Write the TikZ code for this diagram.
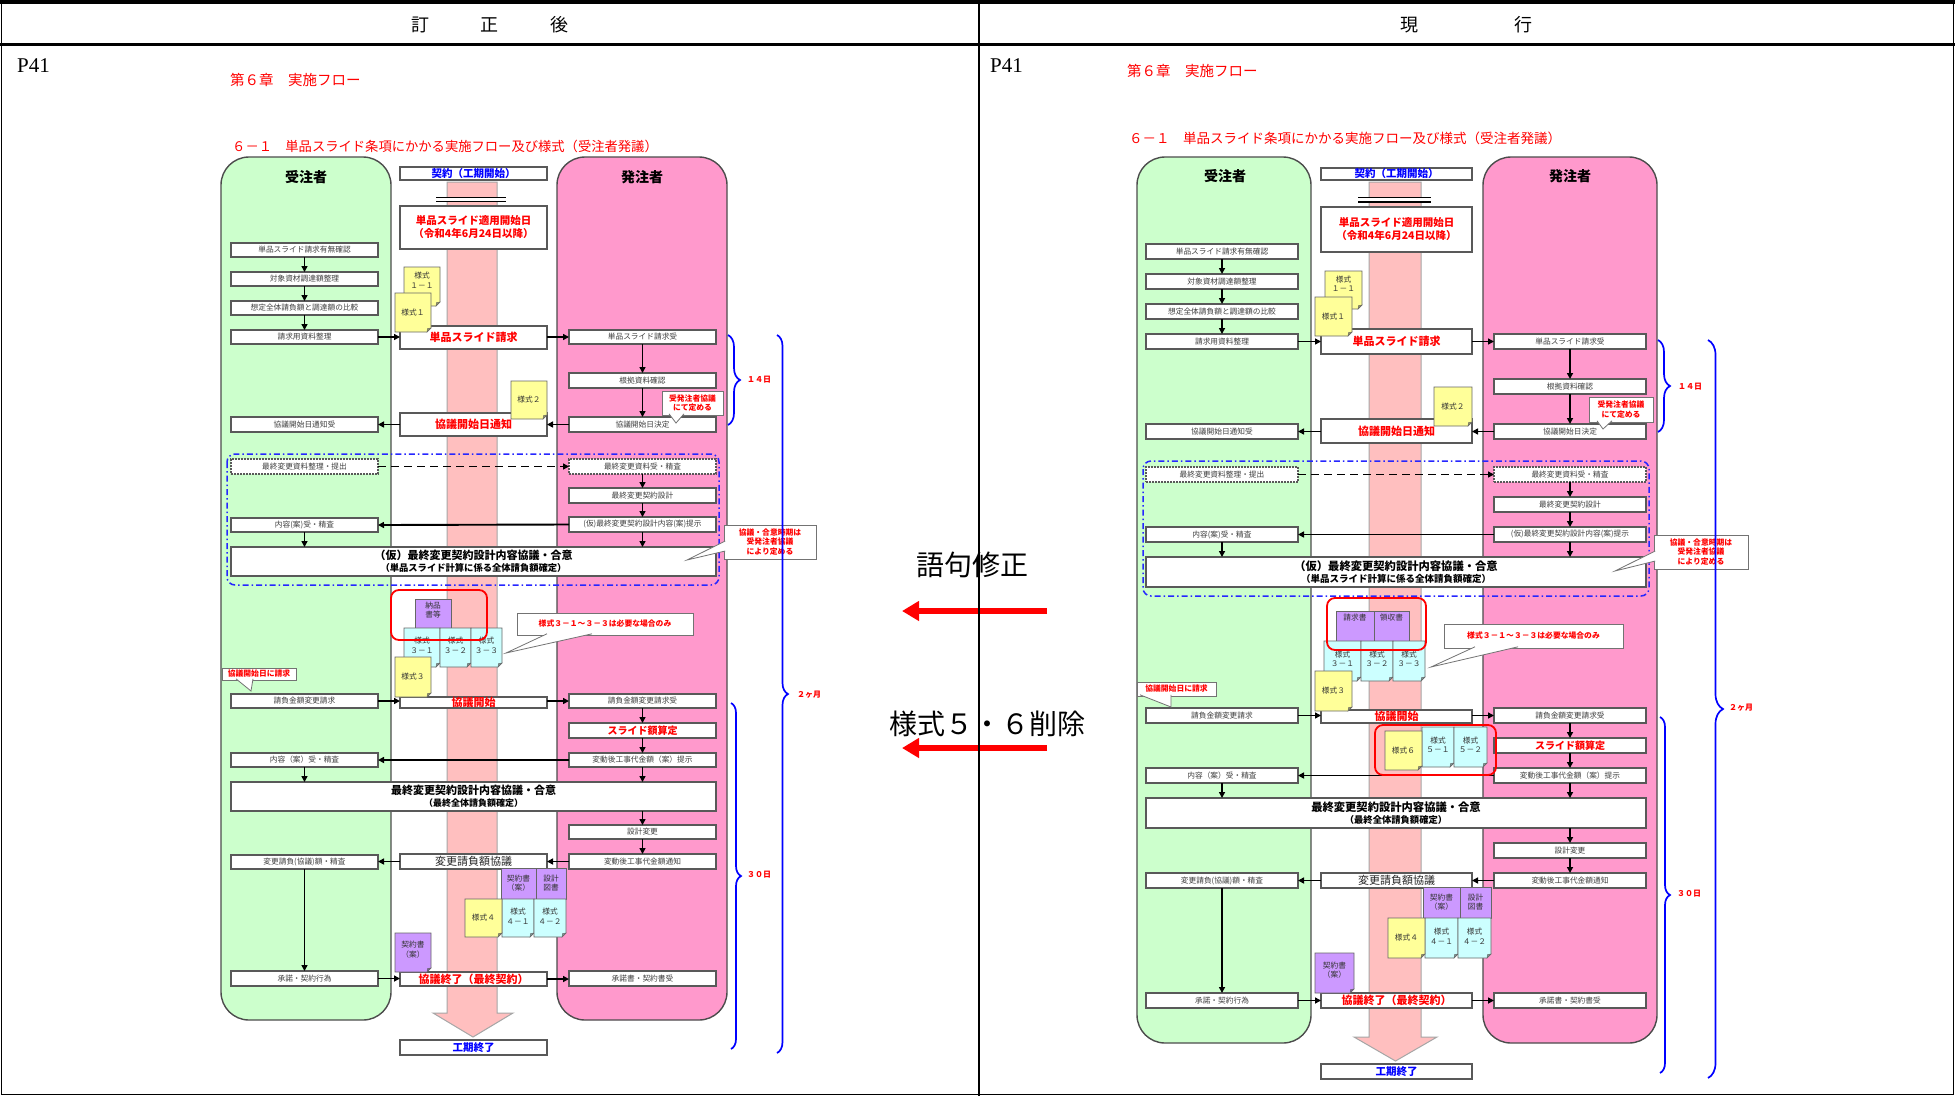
\documentclass[tikz,border=0pt]{standalone}
\usepackage{fontspec}
\setmainfont{Noto Sans CJK JP}
\newfontfamily\lserif{Liberation Serif}
\usetikzlibrary{arrows.meta,decorations.pathreplacing}
\definecolor{laneG}{HTML}{CCFFCC}
\definecolor{laneP}{HTML}{FF99CC}
\definecolor{bandc}{HTML}{FFBFBF}
\definecolor{noteY}{HTML}{FFFF99}
\definecolor{noteC}{HTML}{CCFFFF}
\definecolor{noteP}{HTML}{CC99FF}
\definecolor{dblue}{HTML}{0000FF}
\tikzset{
  lane/.style={draw=black!70, line width=1.4pt, rounded corners=28pt},
  band/.style={fill=bandc, draw=black!35, line width=1pt},
  lbox/.style={draw=black!65, fill=white, line width=1.2pt, inner sep=0pt, outer sep=0pt, font=\fontsize{7.7}{9}\selectfont, text=black!75},
  dbox/.style={lbox, dash pattern=on 1.8pt off 1.2pt},
  cred/.style={lbox, text=red, font=\fontsize{11}{13}\selectfont\bfseries},
  credm/.style={lbox, text=red, font=\fontsize{10}{12}\selectfont\bfseries},
  cblue/.style={lbox, text=dblue, font=\fontsize{10.5}{12}\selectfont\bfseries},
  cblk/.style={lbox, text=black!85, font=\fontsize{11}{13}\selectfont},
  cred2/.style={lbox, text=red, align=center, font=\fontsize{10.5}{13}\selectfont\bfseries},
  bigb/.style={lbox, align=center, text=black, font=\bfseries},
  arr/.style={line width=1.9pt, -{Triangle[length=6pt,width=6pt]}},
  darr/.style={arr, dash pattern=on 8pt off 5pt},
  nt/.style={inner sep=0pt, align=center, font=\fontsize{7.7}{9.5}\selectfont, text=black!80},
  pfill/.style={draw=black!60, fill=noteP, line width=0.6pt},
  callout/.style={draw=black!55, fill=white, line width=0.8pt, inner sep=0pt, outer sep=0pt, align=center, text=red, font=\fontsize{7.8}{9.5}\selectfont\bfseries},
  lanelbl/.style={font=\fontsize{14}{16}\selectfont\bfseries},
  brc/.style={draw=dblue, line width=1.7pt, decorate, decoration={brace, amplitude=#1}},
  brlbl/.style={text=red, font=\fontsize{8}{9}\selectfont\bfseries},
  hlt/.style={draw=red, line width=1.8pt, rounded corners=8pt},
  bdash/.style={draw=dblue!85, line width=1.5pt, dash pattern=on 6pt off 3pt on 1.5pt off 3pt, rounded corners=8pt},
  redarr/.style={draw=red, line width=6pt, -{Triangle[length=17pt,width=19pt]}},
  hdr/.style={font=\fontsize{18}{20}\selectfont},
  ttl/.style={text=red, anchor=west, inner sep=0pt},
  midtxt/.style={font=\fontsize{28}{30}\selectfont},
}
\newcommand{\bx}[6][lbox]{\node[#1,minimum width={(#4-#2)*1pt},minimum height={(#5-#3)*1pt}] (#6) at ({(#2+#4)/2},{(#3+#5)/2})}
\newcommand{\docnote}[8][0]{%
  \filldraw[draw=black!60, fill=#6, line width=0.6pt] (#2,#3) -- (#4,#3) -- (#4,#5-4) -- (#4-4,#5) -- (#2,#5) -- cycle;
  \filldraw[draw=black!60, fill=#6!60!black, line width=0.4pt] (#4,#5-4) -- (#4-3.5,#5-3.5) -- (#4-4,#5) -- cycle;
  \node[nt] (#7) at ({(#2+#4)/2},{(#3+#5)/2+(#1)}) {#8};}
\newcommand{\pnote}[7]{%
  \filldraw[pfill] (#1,#2) rectangle (#3,#4);
  \node[nt] (#5) at ({(#1+#3)/2},#7) {#6};}
\newcommand{\calltail}[6]{%
  \fill[white] (#1,#2) -- (#3,#4) -- (#5,#6) -- cycle;
  \draw[draw=black!55, line width=0.8pt] (#1,#2) -- (#3,#4) -- (#5,#6);}
\begin{document}
\begin{tikzpicture}[x=1pt,y=-1pt]
\useasboundingbox (0,0) rectangle (1955,1096);
\fill[white] (0,0) rectangle (1955,1096);
% ===== frame and headers
\fill[black] (0,0) rectangle (1955,4);
\draw[line width=1.5pt] (1.5,0) -- (1.5,1094.5) -- (1953.5,1094.5) -- (1953.5,0);
\draw[line width=3pt] (0,44) -- (1955,44);
\node[hdr] (hL) at (490,25) {訂\hspace{52pt}正\hspace{52pt}後};
\node[hdr] (hR) at (1466,25) {現\hspace{96pt}行};
\node[anchor=west, inner sep=0pt, font=\lserif\fontsize{21}{23}\selectfont] (pL) at (17,66) {P41};
\node[anchor=west, inner sep=0pt, font=\lserif\fontsize{21}{23}\selectfont] (pR) at (990,66) {P41};
\node[ttl, font=\fontsize{14.5}{16}\selectfont] (cL) at (230,80) {第６章　実施フロー};
\node[ttl, font=\fontsize{14.5}{16}\selectfont] (cR) at (1127,71) {第６章　実施フロー};
\node[ttl, font=\fontsize{13.3}{15}\selectfont] (sL) at (232,146) {６－１　単品スライド条項にかかる実施フロー及び様式（受注者発議）};
\node[ttl, font=\fontsize{13.5}{15}\selectfont] (sR) at (1129,138) {６－１　単品スライド条項にかかる実施フロー及び様式（受注者発議）};

% ================= LEFT CHART
\draw[lane, fill=laneG] (221,157) rectangle (391,1020);
\draw[lane, fill=laneP] (557,157) rectangle (727,1020);
\node[lanelbl] (LgL) at (306,177) {受注者};
\node[lanelbl] (LpL) at (642,177) {発注者};
\filldraw[band] (447,182) -- (497,182) -- (497,1013) -- (513,1013) -- (473,1037) -- (433,1013) -- (447,1013) -- cycle;
\fill[white] (436,196.5) rectangle (506,202);
\draw[line width=1.4pt] (436,197.2) -- (506,197.2) (436,201.3) -- (506,201.3);
\draw[bdash] (227,454) rectangle (719,585);
% center
\bx[cblue]{400}{167}{547}{180}{Lc1}{契約（工期開始）};
\bx[cred2]{400}{206}{547}{249}{Lc2}{単品スライド適用開始日\\（令和4年6月24日以降）};
\bx[cred]{400}{326}{547}{349}{Lc3}{単品スライド請求};
\bx[cred]{400}{413}{547}{436}{Lc4}{協議開始日通知};
\bx[cred]{400}{697}{547}{708}{Lc5}{協議開始};
\bx[cblk]{400}{854}{547}{869}{Lc6}{変更請負額協議};
\bx[cred]{400}{972}{547}{986}{Lc7}{協議終了（最終契約）};
\bx[cblue]{400}{1040}{547}{1055}{Lc8}{工期終了};
% left lane
\bx{231}{243}{378}{257}{La1}{単品スライド請求有無確認};
\bx{231}{272}{378}{286}{La2}{対象資材調達額整理};
\bx{231}{301}{378}{315}{La3}{想定全体請負額と調達額の比較};
\bx{231}{330}{378}{344}{La4}{請求用資料整理};
\bx{231}{417}{378}{432}{La5}{協議開始日通知受};
\bx[dbox]{231}{459}{378}{474}{La6}{最終変更資料整理・提出};
\bx{231}{518}{378}{532}{La7}{内容(案)受・精査};
\bx{231}{694}{378}{708}{La8}{請負金額変更請求};
\bx{231}{753}{378}{767}{La9}{内容（案）受・精査};
\bx{231}{855}{378}{869}{La10}{変更請負(協議)額・精査};
\bx{231}{971}{378}{986}{La11}{承諾・契約行為};
% right lane
\bx{569}{330}{716}{344}{Lr1}{単品スライド請求受};
\bx{569}{373}{716}{388}{Lr2}{根拠資料確認};
\bx{569}{417}{716}{432}{Lr3}{協議開始日決定};
\bx[dbox]{569}{459}{716}{474}{Lr4}{最終変更資料受・精査};
\bx{569}{488}{716}{503}{Lr5}{最終変更契約設計};
\bx{569}{517}{716}{532}{Lr6}{(仮)最終変更契約設計内容(案)提示};
\bx{569}{694}{716}{708}{Lr7}{請負金額変更請求受};
\bx[credm]{569}{723}{716}{738}{Lr8}{スライド額算定};
\bx{569}{753}{716}{767}{Lr9}{変動後工事代金額（案）提示};
\bx{569}{825}{716}{839}{Lr10}{設計変更};
\bx{569}{854}{716}{869}{Lr11}{変動後工事代金額通知};
\bx{569}{971}{716}{986}{Lr12}{承諾書・契約書受};
% big boxes
\bx[bigb]{231}{547}{716}{576}{LB1}{{\fontsize{11}{12}\selectfont （仮）最終変更契約設計内容協議・合意}\\{\fontsize{9.3}{10}\selectfont （単品スライド計算に係る全体請負額確定）}};
\bx[bigb]{231}{782}{716}{811}{LB2}{{\fontsize{11}{12}\selectfont 最終変更契約設計内容協議・合意}\\{\fontsize{9}{10}\selectfont （最終全体請負額確定）}};
% arrows
\draw[arr] (La1) -- (La2);
\draw[arr] (La2) -- (La3);
\draw[arr] (La3) -- (La4);
\draw[arr] (La4.east) -- (La4.east -| Lc3.west);
\draw[arr] (Lc3.east |- La4.east) -- (Lr1.west);
\draw[arr] (Lr1) -- (Lr2);
\draw[arr] (Lr2) -- (Lr3);
\draw[arr] (Lr3.west) -- (Lr3.west -| Lc4.east);
\draw[arr] (Lc4.west |- La5.east) -- (La5.east);
\draw[darr] (La6.east) -- (Lr4.west);
\draw[arr] (Lr4) -- (Lr5);
\draw[arr] (Lr5) -- (Lr6);
\draw[arr] (Lr6.west) -- (La7.east);
\draw[arr] (Lr6.south) -- (Lr6.south |- LB1.north);
\draw[arr] (La7.south) -- (La7.south |- LB1.north);
\draw[arr] (La8.east) -- (La8.east -| Lc5.west);
\draw[arr] (Lc5.east |- La8.east) -- (Lr7.west);
\draw[arr] (Lr7) -- (Lr8);
\draw[arr] (Lr8) -- (Lr9);
\draw[arr] (Lr9.west) -- (La9.east);
\draw[arr] (Lr9.south) -- (Lr9.south |- LB2.north);
\draw[arr] (La9.south) -- (La9.south |- LB2.north);
\draw[arr] (Lr10.north |- LB2.south) -- (Lr10.north);
\draw[arr] (Lr10) -- (Lr11);
\draw[arr] (Lr11.west) -- (Lr11.west -| Lc6.east);
\draw[arr] (Lc6.west) -- (Lc6.west -| La10.east);
\draw[arr] (La10) -- (La11);
\draw[arr] (La11.east) -- (La11.east -| Lc7.west);
\draw[arr] (Lc7.east) -- (Lc7.east -| Lr12.west);
% notes
\docnote[-6]{404}{267}{440}{306}{noteY}{Ln1}{様式\\１－１};
\docnote{395}{293}{431}{332}{noteY}{Ln2}{様式１};
\docnote{511}{381}{547}{419}{noteY}{Ln3}{様式２};
\pnote{415}{599}{451}{628}{Ln4}{納品\\書等}{610};
\docnote[-2]{404}{628}{440}{667}{noteC}{Ln5}{様式\\３－１};
\docnote[-2]{440}{628}{471}{667}{noteC}{Ln6}{様式\\３－２};
\docnote[-2]{471}{628}{502}{667}{noteC}{Ln7}{様式\\３－３};
\docnote{395}{657}{431}{697}{noteY}{Ln8}{様式３};
\pnote{501}{868}{536}{899}{Ln9}{契約書\\（案）}{883};
\pnote{536}{868}{566}{899}{Ln10}{設計\\図書}{883};
\docnote[-2]{502}{899}{534}{937}{noteC}{Ln12}{様式\\４－１};
\docnote[-2]{534}{899}{566}{937}{noteC}{Ln13}{様式\\４－２};
\docnote{465}{899}{502}{937}{noteY}{Ln11}{様式４};
\docnote[-3]{395}{933}{431}{972}{noteP}{Ln14}{契約書\\（案）};
% highlight
\draw[hlt] (391,590) rectangle (487,640);
% callouts
\bx[callout]{662}{391}{723}{415}{LK1}{受発注者協議\\にて定める};
\calltail{669}{413.8}{676}{423}{684}{413.8}
\bx[callout]{724}{525}{816}{559}{LK2}{協議・合意時期は\\受発注者協議\\により定める};
\calltail{725.2}{541}{687}{560}{725.2}{551}
\bx[callout]{517}{613}{693}{635}{LK3}{様式３－１～３－３は必要な場合のみ};
\calltail{547}{633.8}{506}{653}{592}{633.8}
\bx[callout]{222}{668}{296}{680}{LK4}{協議開始日に請求};
\calltail{236}{678.8}{251}{691}{253}{678.8}
% braces
\draw[brc=12pt] (728,335) -- (728,425);
\node[brlbl] (Lt1) at (759,380) {１４日};
\draw[brc=11pt] (777,335) -- (777,1053);
\node[brlbl] (Lt2) at (809,695) {２ヶ月};
\draw[brc=10pt] (731,703) -- (731,1049);
\node[brlbl] (Lt3) at (759,875) {３０日};

% ================= RIGHT CHART
\draw[lane, fill=laneG] (1137,157) rectangle (1311,1043);
\draw[lane, fill=laneP] (1483,157) rectangle (1657,1043);
\node[lanelbl] (RgL) at (1225,176) {受注者};
\node[lanelbl] (RpL) at (1570,176) {発注者};
\filldraw[band] (1369,182) -- (1421,182) -- (1421,1037) -- (1437,1037) -- (1395.5,1061) -- (1354,1037) -- (1369,1037) -- cycle;
\fill[white] (1358,197) rectangle (1431,203);
\draw[line width=1.4pt] (1358,197.6) -- (1431,197.6) (1358,201.8) -- (1431,201.8);
\draw[bdash] (1143,461) rectangle (1649,596);
% center
\bx[cblue]{1321}{168}{1472}{180}{Rc1}{契約（工期開始）};
\bx[cred2]{1321}{207}{1472}{252}{Rc2}{単品スライド適用開始日\\（令和4年6月24日以降）};
\bx[cred]{1321}{329}{1472}{354}{Rc3}{単品スライド請求};
\bx[cred]{1321}{419}{1472}{443}{Rc4}{協議開始日通知};
\bx[cred]{1321}{710}{1472}{723}{Rc5}{協議開始};
\bx[cblk]{1321}{873}{1472}{888}{Rc6}{変更請負額協議};
\bx[cred]{1321}{993}{1472}{1008}{Rc7}{協議終了（最終契約）};
\bx[cblue]{1321}{1064}{1472}{1079}{Rc8}{工期終了};
% left lane
\bx{1146}{244}{1298}{259}{Ra1}{単品スライド請求有無確認};
\bx{1146}{274}{1298}{289}{Ra2}{対象資材調達額整理};
\bx{1146}{304}{1298}{319}{Ra3}{想定全体請負額と調達額の比較};
\bx{1146}{334}{1298}{349}{Ra4}{請求用資料整理};
\bx{1146}{424}{1298}{439}{Ra5}{協議開始日通知受};
\bx[dbox]{1146}{467}{1298}{482}{Ra6}{最終変更資料整理・提出};
\bx{1146}{527}{1298}{542}{Ra7}{内容(案)受・精査};
\bx{1146}{708}{1298}{723}{Ra8}{請負金額変更請求};
\bx{1146}{768}{1298}{783}{Ra9}{内容（案）受・精査};
\bx{1146}{873}{1298}{888}{Ra10}{変更請負(協議)額・精査};
\bx{1146}{993}{1298}{1008}{Ra11}{承諾・契約行為};
% right lane
\bx{1494}{334}{1646}{349}{Rr1}{単品スライド請求受};
\bx{1494}{379}{1646}{394}{Rr2}{根拠資料確認};
\bx{1494}{424}{1646}{439}{Rr3}{協議開始日決定};
\bx[dbox]{1494}{467}{1646}{482}{Rr4}{最終変更資料受・精査};
\bx{1494}{497}{1646}{512}{Rr5}{最終変更契約設計};
\bx{1494}{527}{1646}{542}{Rr6}{(仮)最終変更契約設計内容(案)提示};
\bx{1494}{708}{1646}{723}{Rr7}{請負金額変更請求受};
\bx[credm]{1494}{738}{1646}{753}{Rr8}{スライド額算定};
\bx{1494}{768}{1646}{783}{Rr9}{変動後工事代金額（案）提示};
\bx{1494}{843}{1646}{858}{Rr10}{設計変更};
\bx{1494}{873}{1646}{888}{Rr11}{変動後工事代金額通知};
\bx{1494}{993}{1646}{1008}{Rr12}{承諾書・契約書受};
% big boxes
\bx[bigb]{1146}{557}{1646}{587}{RB1}{{\fontsize{11.3}{12}\selectfont （仮）最終変更契約設計内容協議・合意}\\{\fontsize{9.5}{10}\selectfont （単品スライド計算に係る全体請負額確定）}};
\bx[bigb]{1146}{798}{1646}{828}{RB2}{{\fontsize{11.3}{12}\selectfont 最終変更契約設計内容協議・合意}\\{\fontsize{9.3}{10}\selectfont （最終全体請負額確定）}};
% arrows
\draw[arr] (Ra1) -- (Ra2);
\draw[arr] (Ra2) -- (Ra3);
\draw[arr] (Ra3) -- (Ra4);
\draw[arr] (Ra4.east) -- (Ra4.east -| Rc3.west);
\draw[arr] (Rc3.east |- Ra4.east) -- (Rr1.west);
\draw[arr] (Rr1) -- (Rr2);
\draw[arr] (Rr2) -- (Rr3);
\draw[arr] (Rr3.west) -- (Rr3.west -| Rc4.east);
\draw[arr] (Rc4.west |- Ra5.east) -- (Ra5.east);
\draw[darr] (Ra6.east) -- (Rr4.west);
\draw[arr] (Rr4) -- (Rr5);
\draw[arr] (Rr5) -- (Rr6);
\draw[arr] (Rr6.west) -- (Ra7.east);
\draw[arr] (Rr6.south) -- (Rr6.south |- RB1.north);
\draw[arr] (Ra7.south) -- (Ra7.south |- RB1.north);
\draw[arr] (Ra8.east) -- (Ra8.east -| Rc5.west);
\draw[arr] (Rc5.east |- Ra8.east) -- (Rr7.west);
\draw[arr] (Rr7) -- (Rr8);
\draw[arr] (Rr8) -- (Rr9);
\draw[arr] (Rr9.west) -- (Ra9.east);
\draw[arr] (Rr9.south) -- (Rr9.south |- RB2.north);
\draw[arr] (Ra9.south) -- (Ra9.south |- RB2.north);
\draw[arr] (Rr10.north |- RB2.south) -- (Rr10.north);
\draw[arr] (Rr10) -- (Rr11);
\draw[arr] (Rr11.west) -- (Rr11.west -| Rc6.east);
\draw[arr] (Rc6.west) -- (Rc6.west -| Ra10.east);
\draw[arr] (Ra10) -- (Ra11);
\draw[arr] (Ra11.east) -- (Ra11.east -| Rc7.west);
\draw[arr] (Rc7.east) -- (Rc7.east -| Rr12.west);
% notes
\docnote[-6]{1325}{271}{1362}{309}{noteY}{Rn1}{様式\\１－１};
\docnote{1315}{297}{1352}{336}{noteY}{Rn2}{様式１};
\docnote{1434}{387}{1472}{426}{noteY}{Rn3}{様式２};
\pnote{1336}{611}{1374}{641}{Rn4}{請求書}{618};
\pnote{1374}{611}{1409}{641}{Rn5}{領収書}{618};
\docnote[-2]{1324}{641}{1361}{681}{noteC}{Rn6}{様式\\３－１};
\docnote[-2]{1361}{641}{1393}{681}{noteC}{Rn7}{様式\\３－２};
\docnote[-2]{1393}{641}{1425}{681}{noteC}{Rn8}{様式\\３－３};
\docnote{1315}{671}{1352}{711}{noteY}{Rn9}{様式３};
\docnote[-2]{1422}{727}{1454}{767}{noteC}{Rn10}{様式\\５－１};
\docnote[-2]{1454}{727}{1487}{767}{noteC}{Rn11}{様式\\５－２};
\docnote{1385}{731}{1422}{770}{noteY}{Rn12}{様式６};
\pnote{1423}{887}{1460}{918}{Rn13}{契約書\\（案）}{902};
\pnote{1460}{887}{1491}{918}{Rn14}{設計\\図書}{902};
\docnote[-2]{1425}{918}{1458}{958}{noteC}{Rn16}{様式\\４－１};
\docnote[-2]{1458}{918}{1491}{958}{noteC}{Rn17}{様式\\４－２};
\docnote{1388}{918}{1425}{958}{noteY}{Rn15}{様式４};
\docnote[-3]{1315}{953}{1354}{993}{noteP}{Rn18}{契約書\\（案）};
% highlights
\draw[hlt] (1327,598) rectangle (1426,650);
\draw[hlt] (1375,725) rectangle (1496,775);
% callouts
\bx[callout]{1589}{397}{1653}{422}{RK1}{受発注者協議\\にて定める};
\calltail{1597}{420.8}{1603}{429}{1612}{420.8}
\bx[callout]{1654}{535}{1748}{569}{RK2}{協議・合意時期は\\受発注者協議\\により定める};
\calltail{1655.2}{551}{1615}{571}{1655.2}{561}
\bx[callout]{1444}{624}{1623}{648}{RK3}{様式３－１～３－３は必要な場合のみ};
\calltail{1475}{646.8}{1431}{667}{1518}{646.8}
\bx[callout]{1137}{682}{1216}{696}{RK4}{協議開始日に請求};
\calltail{1140}{694.8}{1171}{707}{1171}{694.8}
% braces
\draw[brc=12pt] (1658,340) -- (1658,432);
\node[brlbl] (Rt1) at (1690,387) {１４日};
\draw[brc=15pt] (1708,340) -- (1708,1078);
\node[brlbl] (Rt2) at (1741,708) {２ヶ月};
\draw[brc=10pt] (1660,717) -- (1660,1073);
\node[brlbl] (Rt3) at (1689,894) {３０日};

% ================= middle
\node[midtxt] (M1) at (972,565) {語句修正};
\node[midtxt] (M2) at (987,724) {様式５・６削除};
\coordinate (M1s) at (1047,611);
\coordinate (M1e) at (902,611);
\coordinate (M2s) at (1047,748);
\coordinate (M2e) at (902,748);
\draw[redarr] (M1s) -- (M1e);
\draw[redarr] (M2s) -- (M2e);
\draw[line width=1.5pt] (979,0) -- (979,1096);
\end{tikzpicture}
\end{document}
